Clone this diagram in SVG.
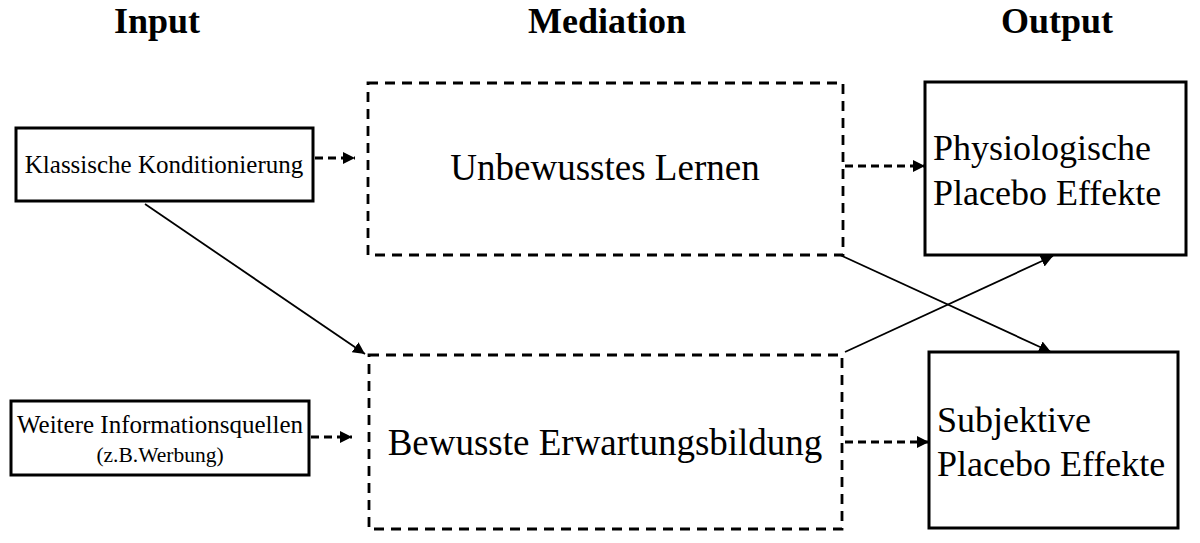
<svg xmlns="http://www.w3.org/2000/svg" width="1200" height="543" viewBox="0 0 1200 543">
<style>
  .t{font-family:"Liberation Serif","Times New Roman",serif;fill:#000}
  .h{font-weight:bold;font-size:36px}
  .box{fill:#fff;stroke:#000;stroke-width:3}
  .dbox{fill:#fff;stroke:#000;stroke-width:2.8;stroke-dasharray:10 7}
  .solid{fill:none;stroke:#000;stroke-width:1.8}
  .dash{fill:none;stroke:#000;stroke-width:3.2;stroke-dasharray:8 5}
</style>
<defs>
  <marker id="ah" viewBox="0 0 10 10" refX="10" refY="5" markerWidth="12" markerHeight="12" markerUnits="userSpaceOnUse" orient="auto">
    <path d="M0,0 L10,5 L0,10 z" fill="#000"/>
  </marker>
</defs>
<rect width="1200" height="543" fill="#fff"/>
<g id="titles">
  <text class="t h" x="157" y="33" text-anchor="middle">Input</text>
  <text class="t h" x="607" y="33" text-anchor="middle">Mediation</text>
  <text class="t h" x="1057" y="33" text-anchor="middle">Output</text>
</g>
<g id="connectors">
  <line class="dash" x1="315" y1="158" x2="355" y2="158" marker-end="url(#ah)"/>
  <line class="dash" x1="311" y1="437" x2="352" y2="437" marker-end="url(#ah)"/>
  <line class="dash" x1="845" y1="166" x2="925" y2="166" marker-end="url(#ah)"/>
  <line class="dash" x1="845" y1="442" x2="929" y2="442" marker-end="url(#ah)"/>
  <line class="solid" x1="145" y1="204" x2="365" y2="354" marker-end="url(#ah)"/>
  <line class="solid" x1="840" y1="255" x2="1051" y2="352" marker-end="url(#ah)"/>
  <line class="solid" x1="845" y1="352" x2="1053" y2="256" marker-end="url(#ah)"/>
</g>
<g id="klassische">
  <rect class="box" x="16" y="128" width="297" height="73"/>
  <text class="t" x="164" y="173" font-size="25" text-anchor="middle">Klassische  Konditionierung</text>
</g>
<g id="weitere">
  <rect class="box" x="11" y="401" width="298" height="74"/>
  <text class="t" x="160" y="433" font-size="25" text-anchor="middle">Weitere Informationsquellen</text>
  <text class="t" x="160" y="462" font-size="21.5" text-anchor="middle">(z.B.Werbung)</text>
</g>
<g id="unbewusst">
  <rect class="dbox" x="368" y="83" width="475" height="172"/>
  <text class="t" x="605" y="180" font-size="37" text-anchor="middle">Unbewusstes Lernen</text>
</g>
<g id="bewusst">
  <rect class="dbox" x="369" y="355" width="473" height="174"/>
  <text class="t" x="605" y="455" font-size="37" text-anchor="middle">Bewusste Erwartungsbildung</text>
</g>
<g id="physio">
  <rect class="box" x="925" y="82" width="261" height="173"/>
  <text class="t" x="933" y="160" font-size="36">Physiologische</text>
  <text class="t" x="933" y="205" font-size="36">Placebo Effekte</text>
</g>
<g id="subjektiv">
  <rect class="box" x="929" y="352" width="249" height="176"/>
  <text class="t" x="937" y="432" font-size="36">Subjektive</text>
  <text class="t" x="937" y="476" font-size="36">Placebo Effekte</text>
</g>
</svg>
